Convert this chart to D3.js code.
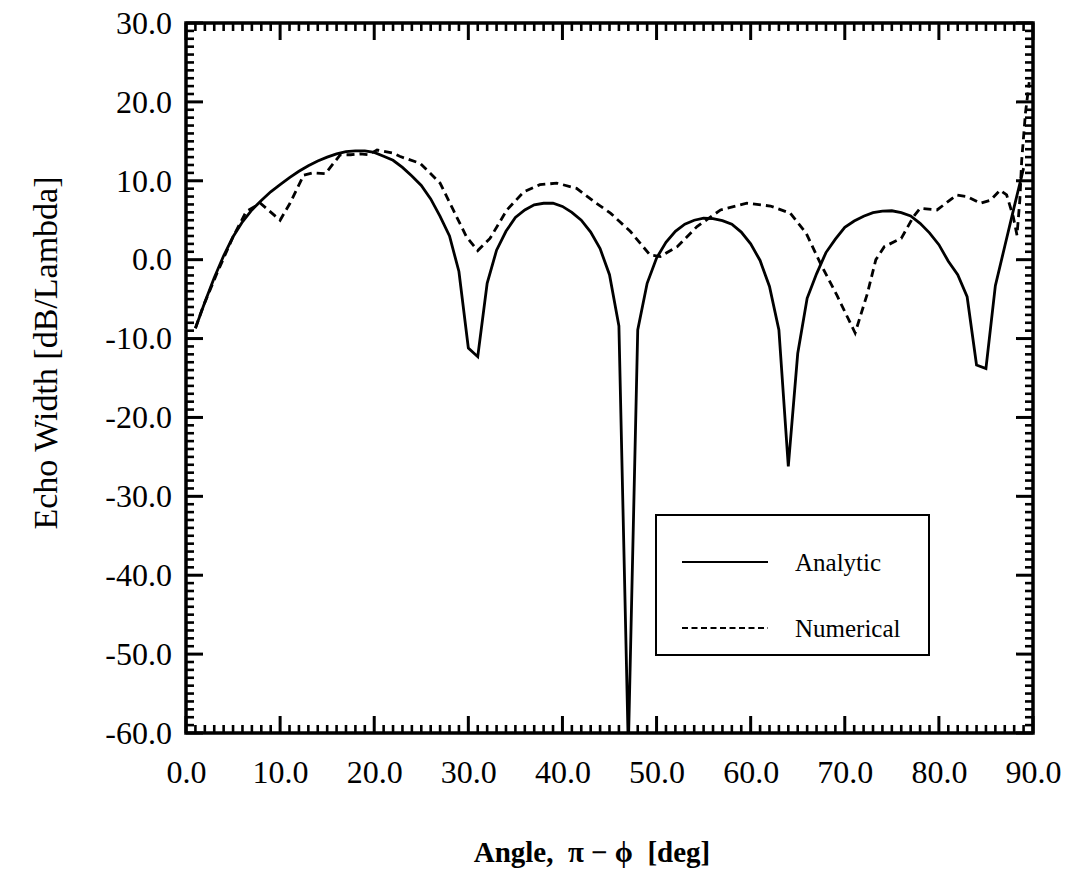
<!DOCTYPE html>
<html>
<head>
<meta charset="utf-8">
<script src="https://cdn.jsdelivr.net/npm/d3@7"></script>
<style>
  html, body { margin: 0; padding: 0; background: #fff; }
  svg { display: block; }
  text { font-family: "Liberation Serif", "Times New Roman", serif; fill: #000; }
</style>
</head>
<body>
<svg id="chart" width="1070" height="871"></svg>
<script>
// Analytic echo width, sampled every degree [deg, dB/Lambda]
const analyticAngle = [
  1, 2, 3, 4, 5, 6, 7, 8, 9, 10,
  11, 12, 13, 14, 15, 16, 17, 18, 19, 20,
  21, 22, 23, 24, 25, 26, 27, 28, 29, 30,
  31, 32, 33, 34, 35, 36, 37, 38, 39, 40,
  41, 42, 43, 44, 45, 46, 47, 48, 49, 50,
  51, 52, 53, 54, 55, 56, 57, 58, 59, 60,
  61, 62, 63, 64, 65, 66, 67, 68, 69, 70,
  71, 72, 73, 74, 75, 76, 77, 78, 79, 80,
  81, 82, 83, 84, 85, 86, 87, 88, 89
];
const analyticValue = [
  -8.7, -5.4, -2.3, 0.5, 2.9, 4.8, 6.3, 7.5, 8.6, 9.5,
  10.4, 11.2, 11.9, 12.5, 13.0, 13.4, 13.7, 13.8, 13.8, 13.6,
  13.1, 12.6, 11.7, 10.6, 9.4, 7.7, 5.5, 3.0, -1.5, -11.2,
  -12.3, -3.0, 1.2, 3.6, 5.35, 6.3, 6.95, 7.15, 7.15, 6.75,
  6.0, 5.0, 3.5, 1.4, -1.9, -8.4, -62.0, -8.9, -3.0, 0.2,
  2.2, 3.6, 4.5, 5.0, 5.25, 5.2, 4.95, 4.5, 3.5, 2.0,
  -0.1, -3.4, -8.9, -26.2, -11.9, -4.9, -1.8, 0.9, 2.6, 4.1,
  4.9, 5.5, 5.95, 6.15, 6.2, 5.95, 5.55, 4.6, 3.4, 1.9,
  -0.2, -1.9, -4.7, -13.35, -13.8, -3.3, 1.7, 6.7, 11.6
];

// Numerical echo width [deg, dB/Lambda]
const numericalAngle = [
  1.0, 1.8, 3.3, 5.0, 6.4, 7.9, 10.0, 11.05, 12.5, 13.5,
  14.8, 16.4, 17.5, 18.5, 19.4, 20.3, 22.0, 22.7, 24.9, 27.0,
  28.4, 29.8, 31.0, 32.3, 34.1, 35.9, 37.6, 39.4, 41.5, 43.6,
  45.1, 46.1, 47.2, 49.3, 50.4, 52.2, 54.3, 56.8, 59.6, 62.1,
  64.2, 65.9, 67.4, 69.2, 71.1, 72.4, 73.3, 74.2, 76.0, 77.3,
  78.0, 79.8, 81.9, 83.0, 84.4, 85.5, 86.5, 87.2, 87.9, 88.3,
  88.6, 88.8, 89.2, 89.6
];
const numericalValue = [
  -8.7, -6.0, -1.7, 2.9, 6.1, 7.15, 5.0, 7.15, 10.7, 11.0,
  10.9, 13.3, 13.3, 13.4, 13.3, 13.9, 13.5, 13.1, 12.2, 9.7,
  6.3, 2.9, 1.15, 2.7, 6.3, 8.6, 9.5, 9.7, 9.05, 7.15,
  5.9, 4.8, 3.6, 0.6, 0.4, 1.65, 4.2, 6.3, 7.15, 6.8,
  5.9, 3.35, -0.45, -4.6, -9.3, -4.3, 0.0, 1.65, 2.7, 5.45,
  6.5, 6.3, 8.2, 8.0, 7.15, 7.55, 8.8, 8.2, 5.45, 3.1,
  7.55, 12.6, 18.6, 22.5
];

// Axis ticks
const xTicks = [0, 10, 20, 30, 40, 50, 60, 70, 80, 90];
const yTicks = [30, 20, 10, 0, -10, -20, -30, -40, -50, -60];

// Legend entries
const seriesNames = ["Analytic", "Numerical"];

const plotLeft = 186, plotRight = 1033, plotTop = 23, plotBottom = 733;

const svg = d3.select("#chart");

const x = d3.scaleLinear().domain([0, 90]).range([plotLeft, plotRight]);
const y = d3.scaleLinear().domain([-60, 30]).range([plotBottom, plotTop]);

// one-decimal labels with a plain hyphen for negatives
const fmt = d => d3.format(".1f")(d).replace("\u2212", "-");
const minorX = d3.range(0, 91, 1).filter(v => v % 10 !== 0);
const minorY = d3.range(-60, 31, 1).filter(v => v % 10 !== 0);

// clip the curves to the frame
svg.append("defs").append("clipPath").attr("id", "plotClip")
  .append("rect")
  .attr("x", plotLeft).attr("y", plotTop)
  .attr("width", plotRight - plotLeft).attr("height", plotBottom - plotTop);

// tick labels from the axes
const gxB = svg.append("g").attr("transform", `translate(0,${plotBottom})`)
  .call(d3.axisBottom(x).tickValues(xTicks).tickSize(0).tickPadding(27).tickFormat(fmt));
gxB.select(".domain").remove();
gxB.selectAll(".tick text").style("font-size", "32px")
  .style("font-family", "'Liberation Serif', serif").attr("fill", "#000");

const gyL = svg.append("g").attr("transform", `translate(${plotLeft},0)`)
  .call(d3.axisLeft(y).tickValues(yTicks).tickSize(0).tickPadding(14).tickFormat(fmt));
gyL.select(".domain").remove();
gyL.selectAll(".tick text").style("font-size", "32px")
  .style("font-family", "'Liberation Serif', serif").attr("fill", "#000");

// inward tick marks on all four sides of the frame
const tickG = svg.append("g").attr("stroke", "#000");
function xTickMarks(values, len, w) {
  [[plotBottom, -1], [plotTop, 1]].forEach(([base, dir]) => {
    tickG.append("g").selectAll("line").data(values).join("line")
      .attr("x1", d => x(d)).attr("x2", d => x(d))
      .attr("y1", base).attr("y2", base + dir * len)
      .attr("stroke-width", w);
  });
}
function yTickMarks(values, len, w) {
  [[plotLeft, 1], [plotRight, -1]].forEach(([base, dir]) => {
    tickG.append("g").selectAll("line").data(values).join("line")
      .attr("y1", d => y(d)).attr("y2", d => y(d))
      .attr("x1", base).attr("x2", base + dir * len)
      .attr("stroke-width", w);
  });
}
xTickMarks(xTicks, 17, 3);
xTickMarks(minorX, 8, 2.6);
yTickMarks(yTicks, 17, 3);
yTickMarks(minorY, 8, 2.6);

// frame
svg.append("rect")
  .attr("x", plotLeft).attr("y", plotTop)
  .attr("width", plotRight - plotLeft).attr("height", plotBottom - plotTop)
  .attr("fill", "none").attr("stroke", "#000").attr("stroke-width", 3.5);

// curves
const line = d3.line().x(d => x(d[0])).y(d => y(d[1]));
const analytic = analyticAngle.map((a, i) => [a, analyticValue[i]]);
const numerical = numericalAngle.map((a, i) => [a, numericalValue[i]]);

const curves = svg.append("g").attr("clip-path", "url(#plotClip)");
curves.append("path").datum(numerical)
  .attr("d", line).attr("fill", "none").attr("stroke", "#000")
  .attr("stroke-width", 2.8).attr("stroke-dasharray", "8,5");
curves.append("path").datum(analytic)
  .attr("d", line).attr("fill", "none").attr("stroke", "#000")
  .attr("stroke-width", 2.8).attr("stroke-linejoin", "miter");

// legend
const lg = svg.append("g");
lg.append("rect").attr("x", 656).attr("y", 515).attr("width", 273).attr("height", 140)
  .attr("fill", "#fff").attr("stroke", "#000").attr("stroke-width", 2);
const legendRows = [
  { name: seriesNames[0], y: 562, dash: null },
  { name: seriesNames[1], y: 628, dash: "6,3.5" }
];
legendRows.forEach(r => {
  lg.append("line").attr("x1", 682).attr("x2", 768).attr("y1", r.y).attr("y2", r.y)
    .attr("stroke", "#000").attr("stroke-width", 2)
    .attr("stroke-dasharray", r.dash);
  lg.append("text").attr("x", 795).attr("y", r.y + 9)
    .attr("font-size", 25).text(r.name);
});

// axis titles
svg.append("text")
  .attr("transform", "translate(57,353) rotate(-90)")
  .attr("text-anchor", "middle")
  .attr("font-size", 34)
  .text("Echo Width [dB/Lambda]");

svg.append("text")
  .attr("x", 592).attr("y", 862)
  .attr("text-anchor", "middle")
  .attr("font-size", 29).attr("font-weight", "bold")
  .style("white-space", "pre")
  .text("Angle,  \u03C0 \u2212 \u03D5  [deg]");
</script>
</body>
</html>
